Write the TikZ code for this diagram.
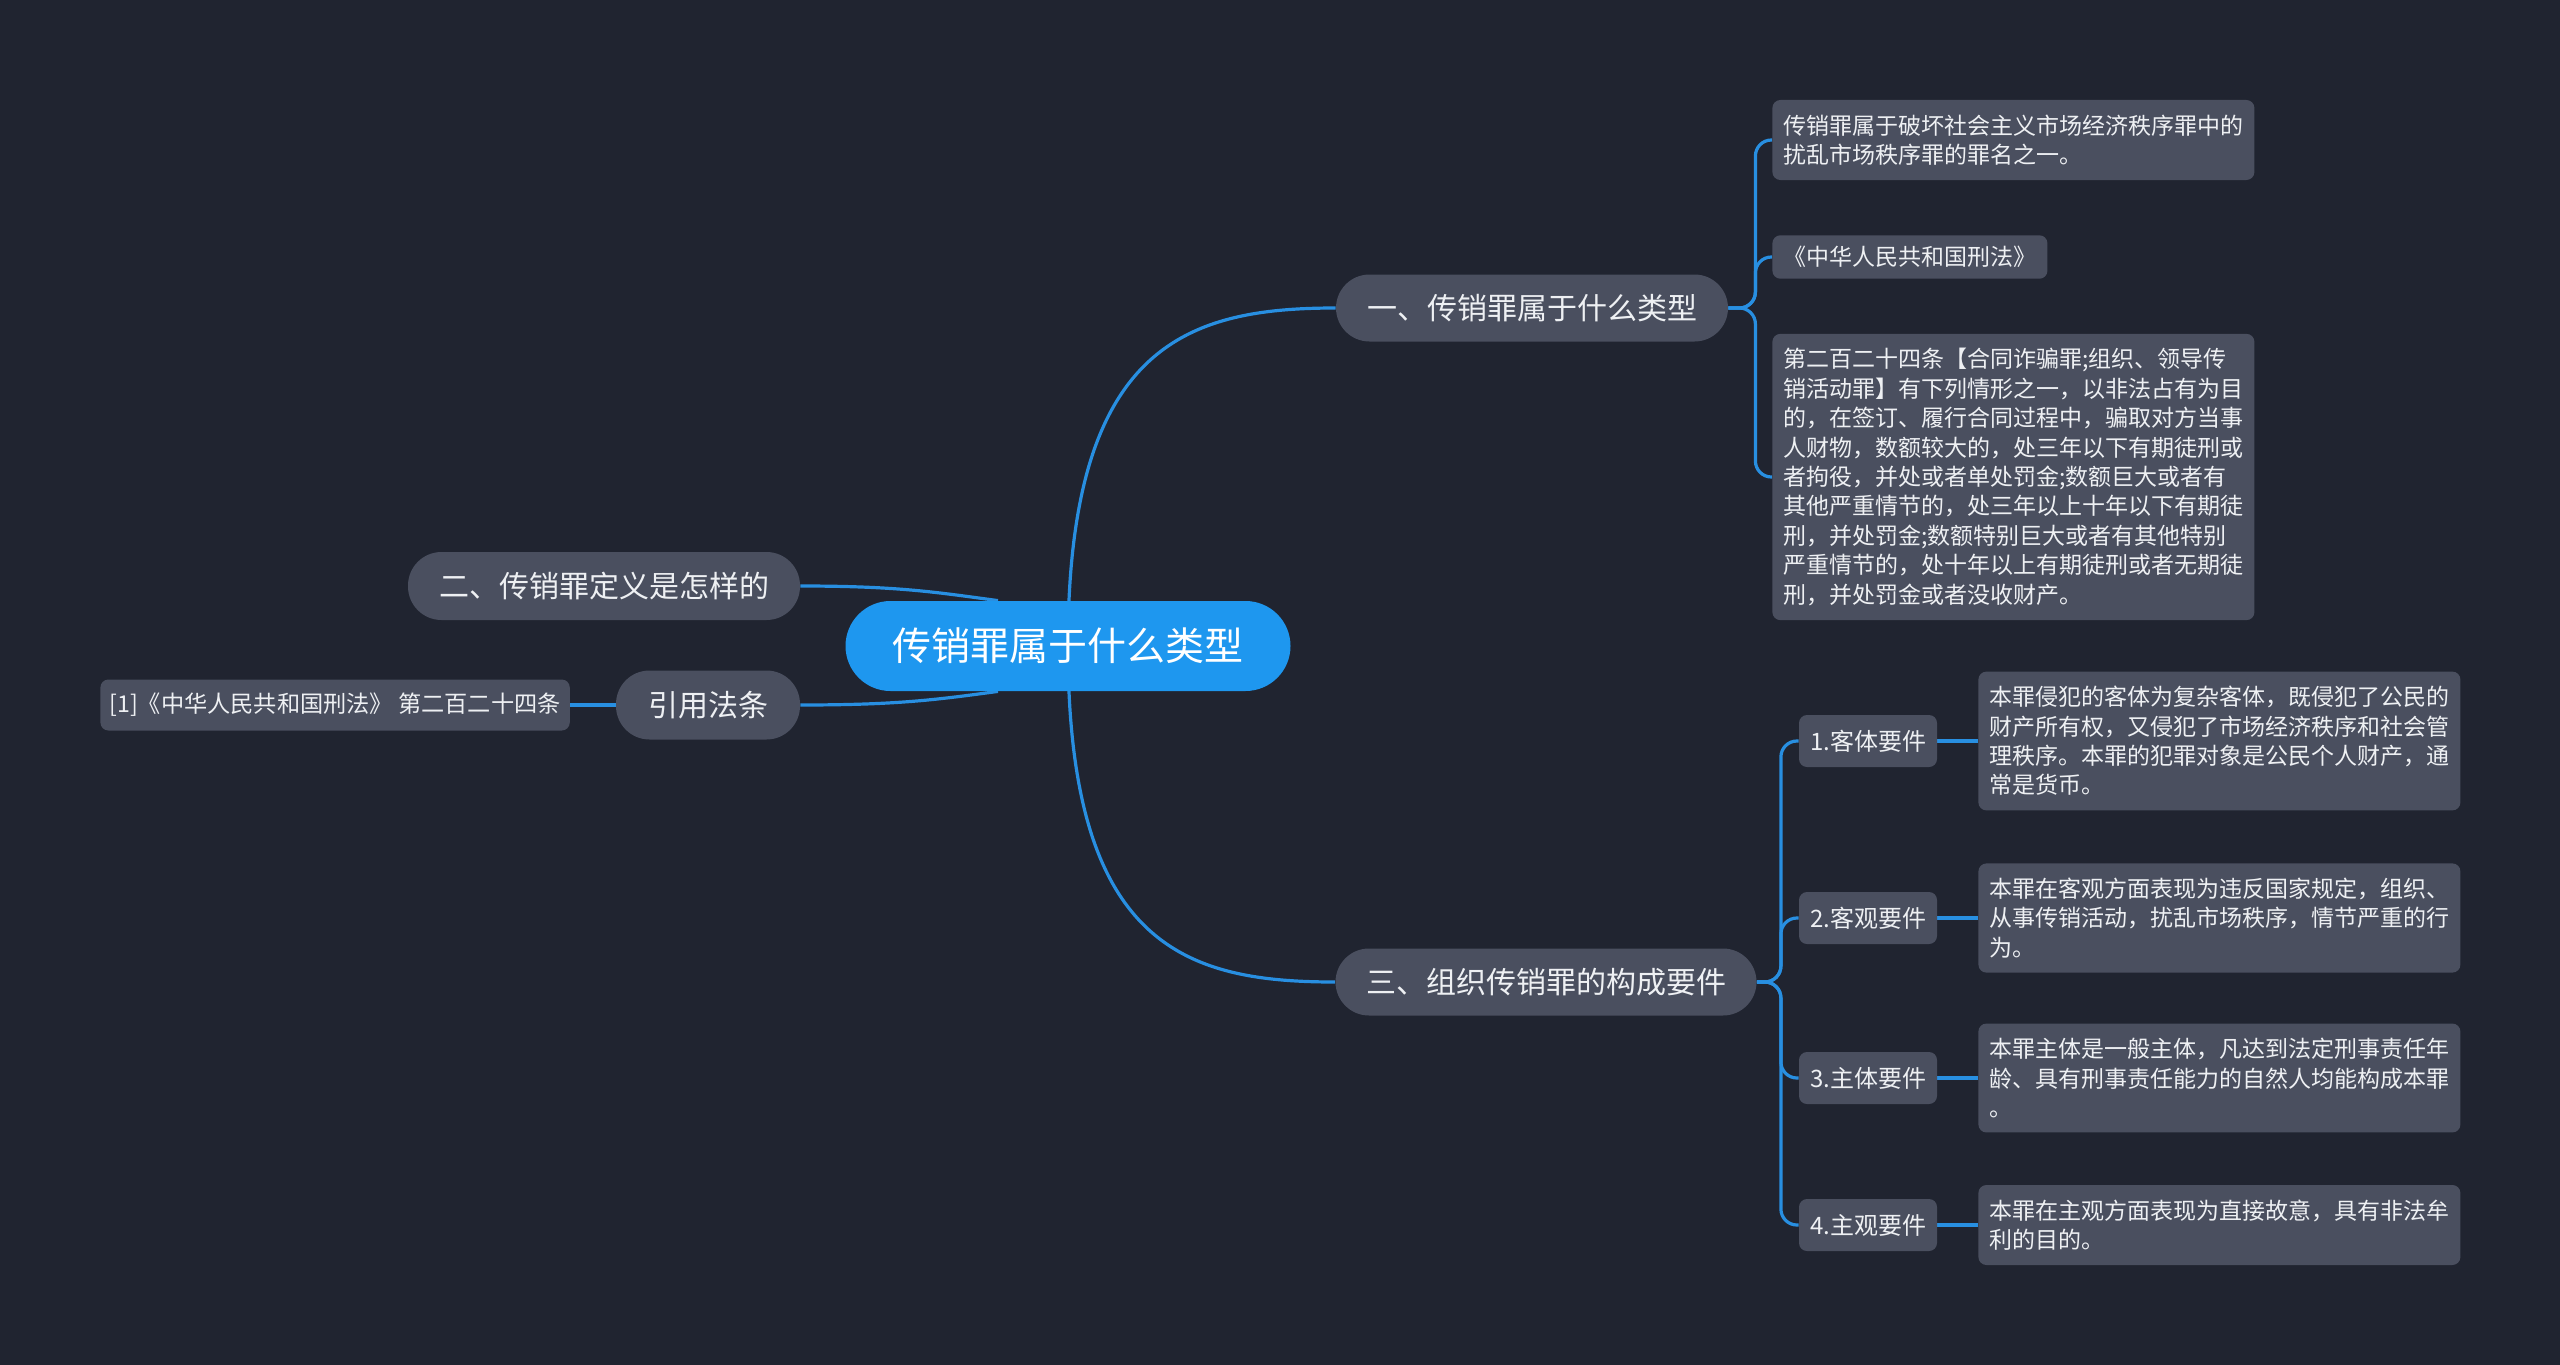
\documentclass[tikz,border=0pt]{standalone}
\usepackage{fontspec}
\setmainfont{Noto Sans CJK SC}
\definecolor{bgc}{RGB}{32,36,48}
\definecolor{boxc}{RGB}{74,79,95}
\definecolor{rootc}{RGB}{30,151,239}
\definecolor{linec}{RGB}{40,143,225}
\definecolor{txtc}{RGB}{238,240,243}
\pgfdeclarelayer{canvas}
\pgfdeclarelayer{wires}
\pgfsetlayers{canvas,wires,main}
\begin{document}
\begin{tikzpicture}[x=0.5pt,y=-0.5pt,
  pill/.style={fill=boxc,text=txtc,rounded corners=16.75pt,minimum height=33.5pt,inner sep=0pt,font=\fontsize{15}{18}\selectfont},
  tag/.style={fill=boxc,text=txtc,rounded corners=4pt,minimum height=26pt,inner xsep=5.5pt,inner ysep=0pt,font=\fontsize{12}{14}\selectfont},
  note/.style={fill=boxc,text=txtc,rounded corners=4pt,align=left,anchor=west,inner xsep=5.5pt,inner ysep=7.3pt,font=\fontsize{11.5}{14.7}\selectfont},
  link/.style={draw=linec,line width=1.6pt}]
\begin{pgfonlayer}{canvas}
\fill[bgc] (0,0) rectangle (2560,1365);
\end{pgfonlayer}
\node[fill=rootc,text=white,rounded corners=22.5pt,minimum width=222.5pt,minimum height=45pt,inner sep=0pt,font=\fontsize{19.5}{23}\selectfont] (root) at (1068,646) {传销罪属于什么类型};
\node[pill,minimum width=196pt] (type) at (1532,308) {一、传销罪属于什么类型};
\node[pill,minimum width=210.5pt] (parts) at (1546,982) {三、组织传销罪的构成要件};
\node[pill,minimum width=196pt,minimum height=34pt] (defn) at (604,586) {二、传销罪定义是怎样的};
\node[pill,minimum width=92pt,minimum height=34.5pt] (cite) at (708,705) {引用法条};
\node[tag,anchor=west,minimum height=25.5pt,inner xsep=4.5pt,font=\fontsize{11.6}{14}\selectfont] (law) at (100,705) {[1]《中华人民共和国刑法》 第二百二十四条};
\node[note] (t1) at (1772,140) {传销罪属于破坏社会主义市场经济秩序罪中的\\扰乱市场秩序罪的罪名之一。};
\node[note,inner ysep=5.5pt] (t2) at (1772,257) {《中华人民共和国刑法》};
\node[note] (t3) at (1772,477) {第二百二十四条【合同诈骗罪;组织、领导传\\销活动罪】有下列情形之一，以非法占有为目\\的，在签订、履行合同过程中，骗取对方当事\\人财物，数额较大的，处三年以下有期徒刑或\\者拘役，并处或者单处罚金;数额巨大或者有\\其他严重情节的，处三年以上十年以下有期徒\\刑，并处罚金;数额特别巨大或者有其他特别\\严重情节的，处十年以上有期徒刑或者无期徒\\刑，并处罚金或者没收财产。};
\node[tag,minimum width=67pt] (p1) at (1868,741) {1.客体要件};
\node[tag,minimum width=67pt] (p2) at (1868,918) {2.客观要件};
\node[tag,minimum width=67pt] (p3) at (1868,1078) {3.主体要件};
\node[tag,minimum width=67pt] (p4) at (1868,1225) {4.主观要件};
\node[note] (d1) at (1978,741) {本罪侵犯的客体为复杂客体，既侵犯了公民的\\财产所有权，又侵犯了市场经济秩序和社会管\\理秩序。本罪的犯罪对象是公民个人财产，通\\常是货币。};
\node[note] (d2) at (1978,918) {本罪在客观方面表现为违反国家规定，组织、\\从事传销活动，扰乱市场秩序，情节严重的行\\为。};
\node[note] (d3) at (1978,1078) {本罪主体是一般主体，凡达到法定刑事责任年\\龄、具有刑事责任能力的自然人均能构成本罪\\。};
\node[note] (d4) at (1978,1225) {本罪在主观方面表现为直接故意，具有非法牟\\利的目的。};
\begin{pgfonlayer}{wires}
\draw[link] (root.center) .. controls +(0,-300) and +(-150,0) .. (type.west);
\draw[link] (root.center) .. controls +(0,300) and +(-150,0) .. (parts.west);
\draw[link] (defn.east) .. controls +(100,0) and +(-60,-8) .. ([xshift=-35pt]root.north);
\draw[link] (cite.east) .. controls +(100,0) and +(-60,8) .. ([xshift=-35pt]root.south);
\draw[link] (law.east) -- (cite.west);
\foreach \t in {t1,t2,t3}
  \draw[link,rounded corners=8pt] (type.east) -- ++(27,0) |- (\t.west);
\foreach \p in {p1,p2,p3,p4}
  \draw[link,rounded corners=8pt] (parts.east) -- ++(24,0) |- (\p.west);
\foreach \i in {1,2,3,4}
  \draw[link] (p\i.east) -- (d\i.west);
\end{pgfonlayer}
\end{tikzpicture}
\end{document}
